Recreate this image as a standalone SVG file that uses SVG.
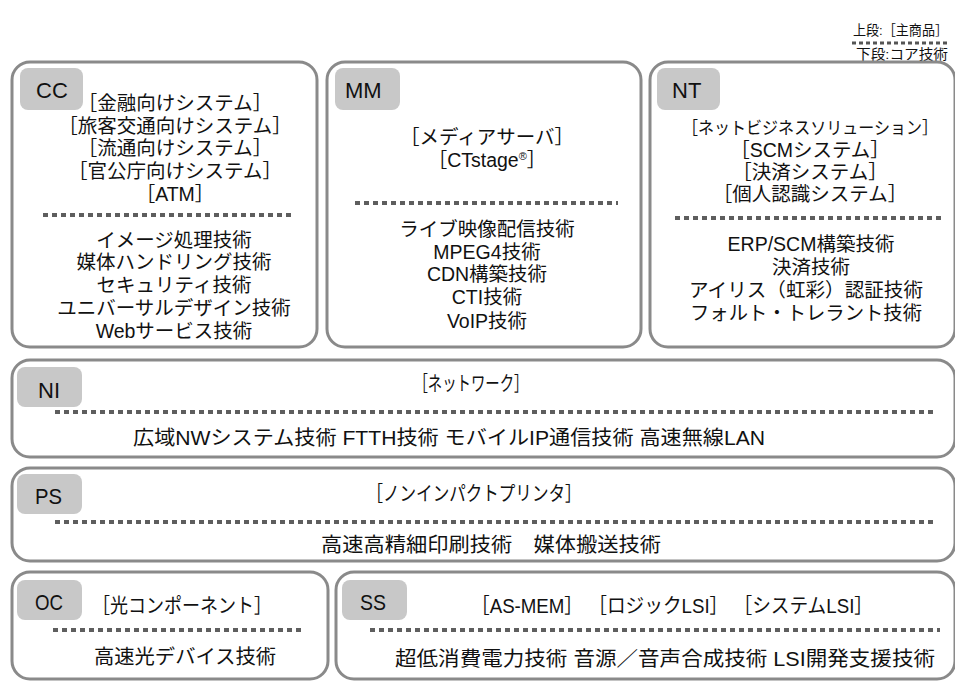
<svg xmlns="http://www.w3.org/2000/svg" width="955" height="681" viewBox="0 0 955 681">
<style>
.box{fill:#fff;stroke:#8a8a8a;stroke-width:3}
.tab{fill:#c8c8c8;stroke:none}
.lbl{font-family:"Liberation Sans","Noto Sans CJK JP",sans-serif;font-size:22px;fill:#111}
.t{font-family:"Liberation Sans","Noto Sans CJK JP",sans-serif;font-size:19.5px;fill:#111;text-anchor:middle}
.c{font-family:"Liberation Sans","Noto Sans CJK JP",sans-serif;font-size:20px;fill:#111;text-anchor:middle}
.leg{font-family:"Liberation Sans","Noto Sans CJK JP",sans-serif;font-size:13.5px;fill:#111;text-anchor:end}
.dot{stroke:#5e5e5e;stroke-width:4;stroke-dasharray:5 4;fill:none}
</style>
<rect width="955" height="681" fill="#fff"/>
<g id="legend">
<text class="leg" x="948" y="35" textLength="95" lengthAdjust="spacingAndGlyphs">上段:［主商品］</text>
<line x1="852" y1="43" x2="948" y2="43" stroke="#555" stroke-width="3" stroke-dasharray="4 3"/>
<text class="leg" x="948" y="59" textLength="92" lengthAdjust="spacingAndGlyphs">下段:コア技術</text>
</g>
<g id="CC">
<rect class="box" x="12" y="62" width="305" height="285" rx="18"/>
<rect class="tab" x="20" y="68" width="63" height="42" rx="8"/>
<text class="lbl" x="36" y="98">CC</text>
<text class="t" x="175" y="110">［金融向けシステム］</text>
<text class="t" x="175" y="133">［旅客交通向けシステム］</text>
<text class="t" x="175" y="155">［流通向けシステム］</text>
<text class="t" x="175" y="178">［官公庁向けシステム］</text>
<text class="t" x="175" y="201">［ATM］</text>
<line class="dot" x1="43" y1="215" x2="294" y2="215"/>
<text class="t" x="174" y="247">イメージ処理技術</text>
<text class="t" x="174" y="269">媒体ハンドリング技術</text>
<text class="t" x="174" y="292">セキュリティ技術</text>
<text class="t" x="174" y="315">ユニバーサルデザイン技術</text>
<text class="t" x="174" y="338">Webサービス技術</text>
</g>
<g id="MM">
<rect class="box" x="327" y="62" width="314" height="285" rx="18"/>
<rect class="tab" x="335" y="68" width="65" height="42" rx="8"/>
<text class="lbl" x="345" y="98">MM</text>
<text class="t" x="487" y="144">［メディアサーバ］</text>
<text class="t" x="487" y="167">［CTstage<tspan style="font-size:11px" dy="-7">®</tspan><tspan dy="7">］</tspan></text>
<line class="dot" x1="355" y1="203" x2="618" y2="203"/>
<text class="t" x="487" y="236">ライブ映像配信技術</text>
<text class="t" x="487" y="259">MPEG4技術</text>
<text class="t" x="487" y="281">CDN構築技術</text>
<text class="t" x="487" y="304">CTI技術</text>
<text class="t" x="487" y="328">VoIP技術</text>
</g>
<g id="NT">
<rect class="box" x="650" y="62" width="305" height="285" rx="18"/>
<rect class="tab" x="657" y="68" width="63" height="42" rx="8"/>
<text class="lbl" x="672" y="98">NT</text>
<text class="t" x="810" y="134" style="font-size:17.5px" textLength="256" lengthAdjust="spacingAndGlyphs">［ネットビジネスソリューション］</text>
<text class="t" x="810" y="157">［SCMシステム］</text>
<text class="t" x="810" y="179">［決済システム］</text>
<text class="t" x="810" y="201">［個人認識システム］</text>
<line class="dot" x1="675" y1="218" x2="945" y2="218"/>
<text class="t" x="811" y="251">ERP/SCM構築技術</text>
<text class="t" x="811" y="274">決済技術</text>
<text class="t" x="806" y="297" textLength="234" lengthAdjust="spacingAndGlyphs">アイリス（虹彩）認証技術</text>
<text class="t" x="806" y="320" textLength="232" lengthAdjust="spacingAndGlyphs">フォルト・トレラント技術</text>
</g>
<g id="NI">
<rect class="box" x="12" y="360" width="943" height="97" rx="18"/>
<rect class="tab" x="17" y="367" width="65" height="40" rx="8"/>
<text class="lbl" x="38" y="398" textLength="22" lengthAdjust="spacingAndGlyphs">NI</text>
<text class="c" x="471" y="391" textLength="115" lengthAdjust="spacingAndGlyphs">［ネットワーク］</text>
<line class="dot" x1="55" y1="412" x2="936" y2="412"/>
<text class="c" x="449" y="445" textLength="632" lengthAdjust="spacingAndGlyphs">広域NWシステム技術 FTTH技術 モバイルIP通信技術 高速無線LAN</text>
</g>
<g id="PS">
<rect class="box" x="12" y="468" width="943" height="93" rx="18"/>
<rect class="tab" x="17" y="474" width="65" height="40" rx="8"/>
<text class="lbl" x="35" y="504" textLength="27" lengthAdjust="spacingAndGlyphs">PS</text>
<text class="c" x="474" y="501" textLength="215" lengthAdjust="spacingAndGlyphs">［ノンインパクトプリンタ］</text>
<line class="dot" x1="55" y1="522" x2="936" y2="522"/>
<text class="c" x="491" y="552" textLength="340" lengthAdjust="spacingAndGlyphs">高速高精細印刷技術　媒体搬送技術</text>
</g>
<g id="OC">
<rect class="box" x="12" y="572" width="316" height="107" rx="18"/>
<rect class="tab" x="17" y="580" width="65" height="40" rx="8"/>
<text class="lbl" x="35" y="610" textLength="28" lengthAdjust="spacingAndGlyphs">OC</text>
<text class="c" x="182" y="613" textLength="180" lengthAdjust="spacingAndGlyphs">［光コンポーネント］</text>
<line class="dot" x1="53" y1="630" x2="304" y2="630"/>
<text class="c" x="185" y="664" textLength="182" lengthAdjust="spacingAndGlyphs">高速光デバイス技術</text>
</g>
<g id="SS">
<rect class="box" x="336" y="572" width="619" height="107" rx="18"/>
<rect class="tab" x="342" y="580" width="65" height="40" rx="8"/>
<text class="lbl" x="360" y="610" textLength="26" lengthAdjust="spacingAndGlyphs">SS</text>
<text class="c" x="672" y="613" textLength="402" lengthAdjust="spacingAndGlyphs">［AS-MEM］ ［ロジックLSI］ ［システムLSI］</text>
<line class="dot" x1="370" y1="630" x2="940" y2="630"/>
<text class="c" x="665" y="666" textLength="540" lengthAdjust="spacingAndGlyphs">超低消費電力技術 音源／音声合成技術 LSI開発支援技術</text>
</g>
</svg>
